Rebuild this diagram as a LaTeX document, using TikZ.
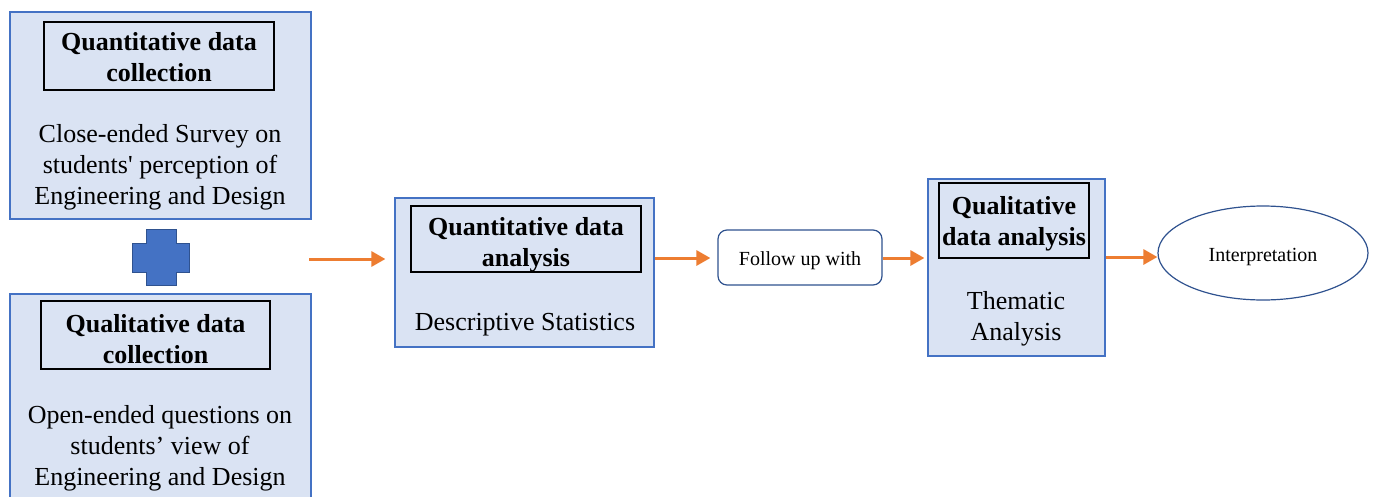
\documentclass[tikz,border=0pt]{standalone}
\usepackage{fontspec}
\setmainfont{Liberation Serif}
\usetikzlibrary{arrows.meta,shapes.geometric}
\definecolor{boxfill}{HTML}{DAE3F3}
\definecolor{boxline}{HTML}{4472C4}
\definecolor{darkline}{HTML}{2F528F}
\definecolor{arr}{HTML}{ED7D31}
\tikzset{
  outerbox/.style={draw=boxline, fill=boxfill, line width=1.2pt, minimum width=#1},
  titlebox/.style={draw=black, line width=1.2pt, inner sep=0pt},
  titletext/.style={align=center, font=\fontsize{26}{31}\selectfont\bfseries, inner sep=0pt},
  bodytext/.style={align=center, font=\fontsize{26}{31}\selectfont, inner sep=0pt},
  smalltext/.style={font=\fontsize{20}{24}\selectfont, inner sep=0pt, text depth=4pt},
  flow/.style={draw=arr, line width=3pt, -{Triangle[length=14pt,width=15pt]}},
}
\begin{document}
\begin{tikzpicture}[x=1pt,y=-1pt]
\useasboundingbox (0,0) rectangle (1376,496);
% left column
\node[outerbox=301pt, minimum height=207pt] (qc) at (160.5,115.5) {};
\node[titlebox, minimum width=230pt, minimum height=68pt] (qct) at (159,56) {};
\node[titletext] (qctt) at (159,57.5) {Quantitative data\\collection};
\node[bodytext] (qcb) at (160,167) {Close-ended Survey on\\students\textquotesingle{} perception of\\Engineering and Design};
\draw[fill=boxline, draw=darkline, line width=1pt]
  (146,229) -- (176,229) -- (176,243) -- (189,243) -- (189,272) -- (176,272) -- (176,285)
  -- (146,285) -- (146,272) -- (132,272) -- (132,243) -- (146,243) -- cycle;
\node[outerbox=301pt, minimum height=206pt] (lc) at (160.5,397) {};
\node[titlebox, minimum width=229pt, minimum height=68pt] (lct) at (155.5,335) {};
\node[titletext] (lctt) at (155.5,339.5) {Qualitative data\\collection};
\node[bodytext] (lcb) at (160,448) {Open-ended questions on\\students’ view of\\Engineering and Design};
% analysis
\node[outerbox=259pt, minimum height=149pt] (qa) at (524.5,272.5) {};
\node[titlebox, minimum width=230pt, minimum height=66pt] (qat) at (526,239) {};
\node[titletext] (qatt) at (526,244.5) {Quantitative data\\analysis};
\node[bodytext] (qab) at (525,325) {Descriptive Statistics};
\node[draw=darkline, line width=1.2pt, rounded corners=9pt, fill=white, minimum width=164pt, minimum height=55pt, smalltext, text height=20pt] (fu) at (800,257.5) {Follow up with};
\node[outerbox=177pt, minimum height=177pt] (la) at (1016.5,267.5) {};
\node[titlebox, minimum width=150pt, minimum height=75pt] (lat) at (1014,220.5) {};
\node[titletext] (latt) at (1014,224) {Qualitative\\data analysis};
\node[bodytext] (lab) at (1016,319) {Thematic\\Analysis};
\node[draw=darkline, line width=1.2pt, ellipse, minimum width=210pt, minimum height=94pt, smalltext, text height=21pt] (int) at (1263,253) {Interpretation};
% arrows
\coordinate (a1s) at (309,259);
\draw[flow, shorten >=9pt] (a1s) -- (a1s -| qa.west);
\draw[flow, shorten >=7pt] (qa.east |- 0,258) -- (fu.west |- 0,258);
\draw[flow, shorten >=3pt] (fu.east |- 0,258) -- (la.west |- 0,258);
\draw[flow] (la.east |- 0,257) -- (int.west |- 0,257);
\end{tikzpicture}
\end{document}
